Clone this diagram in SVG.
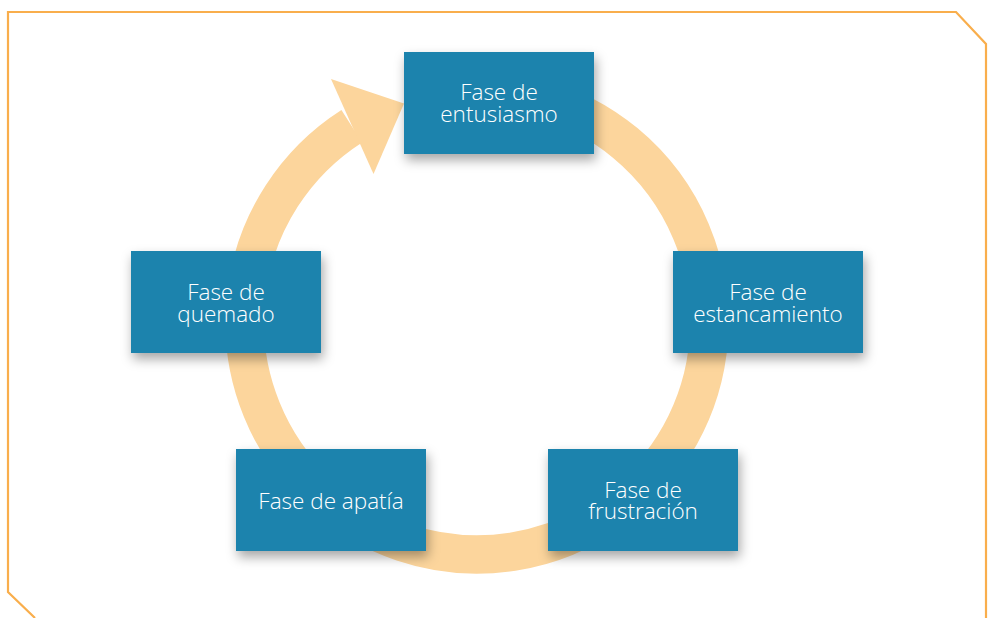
<svg xmlns="http://www.w3.org/2000/svg" width="989" height="618" viewBox="0 0 989 618">
<defs>
<style>
.frame{fill:none;stroke:#F9AE4C;stroke-width:2.2}
.ring{fill:none;stroke:#FCD59C;stroke-width:38.5}
.head{fill:#FCD59C}
.box{fill:#1C83AD;filter:url(#sh)}
.lbl{fill:#FFFFFF;font-family:"Open Sans",Lato,"DejaVu Sans",sans-serif;font-weight:300;font-size:22.5px;text-anchor:middle}
</style>
<filter id="sh" x="-20%" y="-20%" width="150%" height="160%">
<feDropShadow dx="2" dy="6" stdDeviation="6" flood-color="#000" flood-opacity="0.35"/>
</filter>
</defs>
<rect width="989" height="618" fill="#FFFFFF"/>
<polyline class="frame" points="35,618 8,592 8,12 956,12 986,44 986,618"/>
<g id="connectors">
<path class="ring" d="M 351.8 126.2 A 232.4 232.4 0 1 0 537.1 97.5"/>
<polygon class="head" points="331,79 404,103.5 373.5,174"/>
</g>
<g id="n1">
<rect class="box" x="404" y="52" width="190" height="102"/>
<text class="lbl"><tspan x="499" y="100">Fase de</tspan><tspan x="499" y="122">entusiasmo</tspan></text>
</g>
<g id="n2">
<rect class="box" x="673" y="251" width="190" height="102"/>
<text class="lbl"><tspan x="768" y="300">Fase de</tspan><tspan x="768" y="322">estancamiento</tspan></text>
</g>
<g id="n3">
<rect class="box" x="548" y="449" width="190" height="102"/>
<text class="lbl"><tspan x="643" y="498">Fase de</tspan><tspan x="643" y="519">frustración</tspan></text>
</g>
<g id="n4">
<rect class="box" x="236" y="449" width="190" height="102"/>
<text class="lbl" x="331" y="509">Fase de apatía</text>
</g>
<g id="n5">
<rect class="box" x="131" y="251" width="190" height="102"/>
<text class="lbl"><tspan x="226" y="300">Fase de</tspan><tspan x="226" y="322">quemado</tspan></text>
</g>
</svg>
